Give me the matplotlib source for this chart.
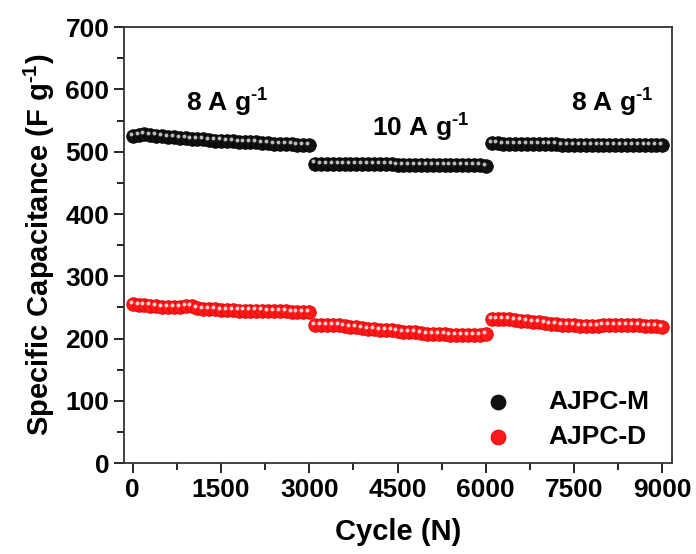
import numpy as np
import matplotlib.pyplot as plt
import matplotlib.transforms as mtransforms

plt.rcParams['font.family'] = ['Liberation Sans', 'DejaVu Sans']
plt.rcParams['font.weight'] = 'bold'
plt.rcParams['mathtext.fontset'] = 'custom'
plt.rcParams['mathtext.rm'] = 'Liberation Sans:bold'
plt.rcParams['mathtext.bf'] = 'Liberation Sans:bold'
plt.rcParams['mathtext.default'] = 'rm'

# cycle numbers, one point every 100 cycles
cycles = np.arange(0, 9001, 100)

# AJPC-M capacitance (F/g)
ajpc_m = [525, 527, 528, 527, 526, 525, 524, 523, 522, 522, 521,
          520, 520, 519, 518, 518, 517, 517, 516, 516, 515,
          515, 514, 514, 513, 513, 512, 512, 511, 511, 510,
          481, 480, 480, 480, 480, 480, 480, 480, 480, 480,
          480, 480, 480, 480, 479, 479, 479, 479, 479, 479,
          479, 479, 479, 478, 478, 478, 478, 478, 478, 477,
          514, 514, 513, 513, 513, 513, 512, 512, 512, 512,
          512, 512, 511, 511, 511, 511, 511, 511, 511, 511,
          511, 511, 510, 510, 510, 510, 510, 510, 510, 510]

# AJPC-D capacitance (F/g)
ajpc_d = [255, 254, 254, 253, 252, 251, 250, 250, 251, 252, 252,
          249, 248, 247, 247, 246, 246, 246, 245, 245, 245,
          245, 245, 244, 244, 244, 244, 243, 243, 243, 243,
          221, 221, 222, 222, 221, 220, 219, 218, 217, 216,
          215, 214, 213, 213, 212, 211, 210, 210, 209, 208,
          208, 207, 207, 206, 206, 205, 205, 205, 206, 208,
          232, 232, 231, 231, 230, 229, 228, 227, 226, 225,
          224, 223, 222, 221, 221, 220, 220, 220, 220, 221,
          221, 222, 222, 222, 221, 221, 220, 220, 220, 219]

# current density annotations
labels = [r'8 A g$^{\text{-1}}$', r'10 A g$^{\text{-1}}$', r'8 A g$^{\text{-1}}$']
label_x = [1600, 4900, 8150]
label_y = [578, 538, 578]

fig = plt.figure(figsize=(6.96, 5.54), dpi=100)
ax = fig.add_axes([0.178, 0.164, 0.788, 0.787])

hl = mtransforms.offset_copy(ax.transData, fig=fig, x=-1.5, y=1.5, units='points')

ax.scatter(cycles, ajpc_m, s=95, c='#111111', edgecolors='black', linewidths=0.6,
           zorder=3, label='AJPC-M')
ax.scatter(cycles, ajpc_m, s=8, c='#bbbbbb', linewidths=0, zorder=4, transform=hl)
ax.scatter(cycles, ajpc_d, s=95, c='#ff1a1a', edgecolors='#e00000', linewidths=0.6,
           zorder=3, label='AJPC-D')
ax.scatter(cycles, ajpc_d, s=8, c='#ffd0d0', linewidths=0, zorder=4, transform=hl)

for t, x, y in zip(labels, label_x, label_y):
    ax.text(x, y, t, fontsize=19, fontweight='bold', ha='center', va='center')

ax.set_xlim(-150, 9170)
ax.set_ylim(0, 700)
ax.set_xticks(np.arange(0, 9001, 1500))
ax.set_xticks(np.arange(750, 9000, 1500), minor=True)
ax.set_yticks(np.arange(0, 701, 100))
ax.set_yticks(np.arange(50, 700, 100), minor=True)
ax.tick_params(which='major', length=7, width=1.2, labelsize=19, direction='out')
ax.tick_params(which='minor', length=5, width=1.2, direction='out')
for s in ax.spines.values():
    s.set_linewidth(1.3)
    s.set_color('#333333')

ax.set_xlabel('Cycle (N)', fontsize=21, fontweight='bold', labelpad=12)
ax.set_ylabel(r'Specific Capacitance (F g$^{\text{-1}}$)', fontsize=21, fontweight='bold', labelpad=6)

leg = ax.legend(loc='lower right', bbox_to_anchor=(0.985, 0.0), frameon=False,
                fontsize=19, markerscale=1.1, handletextpad=0.9,
                borderaxespad=0.15, labelspacing=0.4)

fig.savefig('out.png', dpi=100)
